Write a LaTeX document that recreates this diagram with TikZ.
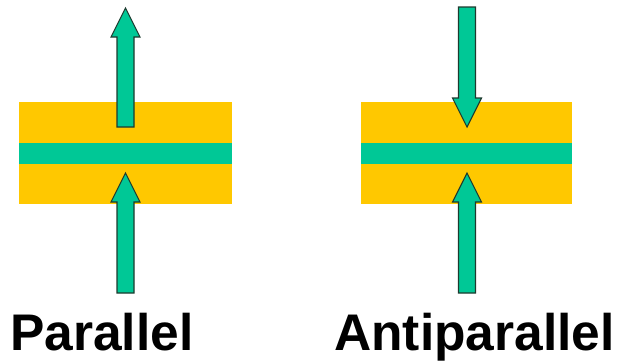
\documentclass[tikz,border=0pt]{standalone}
\usepackage{fontspec}
\setmainfont{Liberation Sans}
\definecolor{layery}{HTML}{FFC800}
\definecolor{spin}{HTML}{00C896}
\definecolor{edge}{HTML}{1E3A2E}
\tikzset{
  arrowshape/.style={fill=spin, draw=edge, line width=1.1pt, line join=miter},
  label/.style={font=\bfseries\fontsize{51.5}{60}\selectfont, inner sep=0pt, anchor=base west}
}
% #1 x centre, #2 tip y, #3 tail y
\newcommand\spinarrow[3]{%
  \pgfmathsetmacro\hsign{(#3>#2)?1:-1}%
  \pgfmathsetmacro\hb{#2+29*\hsign}%
  \draw[arrowshape] (#1,#2) -- (#1+14.5,\hb) -- (#1+8.5,\hb) -- (#1+8.5,#3)
     -- (#1-8.5,#3) -- (#1-8.5,\hb) -- (#1-14.5,\hb) -- cycle;}
\begin{document}
\begin{tikzpicture}[x=1pt,y=-1pt]
\useasboundingbox (0,0) rectangle (620,362);
% left stack
\fill[layery] (19,102) rectangle (232,204);
\fill[spin] (19,143) rectangle (232,164);
\spinarrow{125.5}{8}{127}
\spinarrow{125.5}{173}{293}
% right stack
\fill[layery] (361,102) rectangle (572,204);
\fill[spin] (361,143) rectangle (572,164);
\spinarrow{467}{127}{7}
\spinarrow{467}{173}{293}
\node[label] (par) at (10,350) {Parallel};
\node[label] (anti) at (334,350) {Antiparallel};
\end{tikzpicture}
\end{document}
